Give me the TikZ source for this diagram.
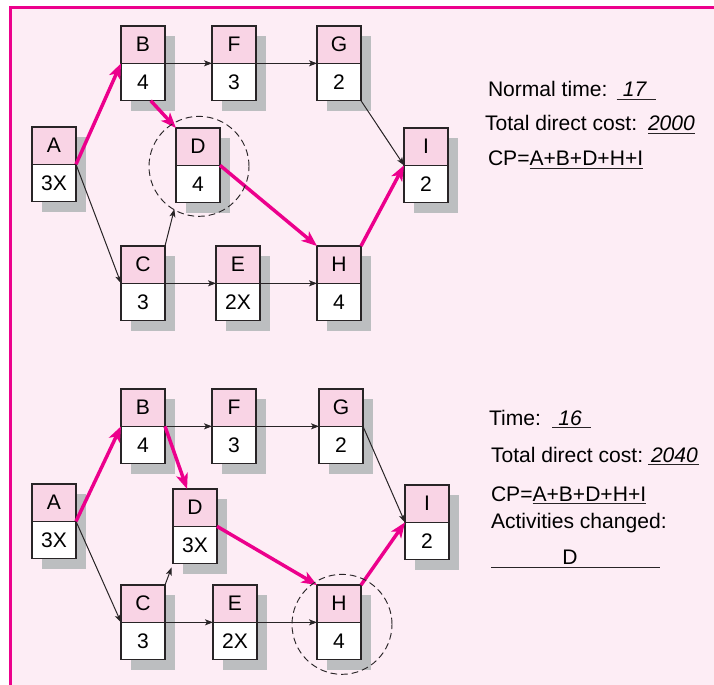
\documentclass[tikz,border=0pt]{standalone}
\usepackage{fontspec}
\setmainfont{Liberation Sans}
\usetikzlibrary{arrows.meta,calc}
\definecolor{bgpink}{RGB}{253,237,245}
\definecolor{hdpink}{RGB}{249,212,229}
\definecolor{mag}{RGB}{236,0,140}
\definecolor{shad}{RGB}{188,190,192}
\definecolor{edge}{RGB}{40,36,38}
\tikzset{
  hd/.style={draw=edge, line width=0.9pt, fill=hdpink, minimum width=33pt, minimum height=28pt, inner sep=0pt, outer sep=0pt},
  vl/.style={draw=edge, line width=0.9pt, fill=white, minimum width=33pt, minimum height=28pt, inner sep=0pt, outer sep=0pt},
  lnk/.style={draw=edge, line width=0.75pt, -{Stealth[length=6pt,width=4.5pt,inset=1.5pt]}},
  crit/.style={draw=mag, line width=2.6pt, -{Stealth[length=11.5pt,width=9pt,inset=3pt]}},
  dcirc/.style={draw=edge, line width=0.7pt, dash pattern=on 5pt off 3pt},
  txt/.style={anchor=base west, inner sep=0pt, outer sep=0pt},
  ul/.style={draw=edge, line width=0.7pt}
}
\newcommand\actbox[5]{%
  \fill[shad] (#2+10,#3+10) rectangle ++(44,75);
  \node[hd, anchor=north west] (#1) at (#2,#3) {#4};
  \node[vl, anchor=north] (#1v) at (#1.south) {#5};
}
\begin{document}
\begin{tikzpicture}[x=0.75pt,y=-0.75pt,font=\fontsize{15.8}{19}\selectfont]
\useasboundingbox (0,0) rectangle (714,685);
\fill[white] (0,0) rectangle (714,685);
\fill[bgpink] (10.5,7.5) rectangle (714,685);
\draw[mag, line width=2.3pt] (10.5,686) -- (10.5,7.5) -- (715,7.5);

% ---------- top network ----------
\actbox{A1}{32}{127}{A}{3X}
\actbox{B1}{121}{26}{B}{4}
\actbox{C1}{121}{246}{C}{3}
\actbox{D1}{176}{128}{D}{4}
\actbox{E1}{216}{246}{E}{2X}
\actbox{F1}{212}{26}{F}{3}
\actbox{G1}{317}{26}{G}{2}
\actbox{H1}{317}{246}{H}{4}
\actbox{I1}{404}{128}{I}{2}

\draw[lnk] (B1.south east) -- (F1.south west);
\draw[lnk] (F1.south east) -- (G1.south west);
\draw[lnk] (G1v.south east) -- (I1.south west);
\draw[lnk] (A1.south east) -- (C1.south west);
\draw[lnk, shorten >=5pt] (C1.north east) -- (D1v.south west);
\draw[lnk] (C1.south east) -- (E1.south west);
\draw[lnk] (E1.south east) -- (H1.south west);
\draw[crit] (A1.south east) -- (B1.south west);
\draw[crit] ($(B1v.south)!0.35!(B1v.south east)$) -- (D1.north west);
\draw[crit] (D1.south east) -- (H1.north west);
\draw[crit] (H1.north east) -- (I1.south west);
\draw[dcirc] ($(D1.south)+(1,1)$) circle[radius=37.5pt];

\node[txt] (nt) at (488,97) {Normal time:};
\node[anchor=base, inner sep=0pt] (t17) at (635,97) {\textit{17}};
\draw[ul] ($(t17.base west)+(-6,2.5)$) -- ($(t17.base east)+(9,2.5)$);
\node[txt] (tc1) at (485,131) {Total direct cost:};
\node[txt] (c2000) at (648,131) {\textit{2000}};
\draw[ul] ($(c2000.base west)+(0,2.5)$) -- ($(c2000.base east)+(0,2.5)$);
\node[txt] (cp1) at (488,166) {CP=};
\node[txt] (cp1x) at (cp1.base east) {A+B+D+H+I};
\draw[ul] ($(cp1x.base west)+(0,2.5)$) -- ($(cp1x.base east)+(0,2.5)$);

% ---------- bottom network ----------
\actbox{A2}{32}{484}{A}{3X}
\actbox{B2}{121}{389}{B}{4}
\actbox{C2}{121}{585}{C}{3}
\actbox{D2}{173}{489}{D}{3X}
\actbox{E2}{213}{585}{E}{2X}
\actbox{F2}{212}{389}{F}{3}
\actbox{G2}{319}{389}{G}{2}
\actbox{H2}{317}{585}{H}{4}
\actbox{I2}{405}{485}{I}{2}

\draw[lnk] (B2.south east) -- (F2.south west);
\draw[lnk] (F2.south east) -- (G2.south west);
\draw[lnk] (G2.south east) -- (I2.south west);
\draw[lnk] (A2.south east) -- (C2.south west);
\draw[lnk, shorten >=3pt] (C2.north east) -- (D2v.south west);
\draw[lnk] (C2.south east) -- (E2.south west);
\draw[lnk] (E2.south east) -- (H2.south west);
\draw[crit] (A2.south east) -- (B2.south west);
\draw[crit] (B2.south east) -- ($(D2.north west)!0.32!(D2.north east)$);
\draw[crit] (D2.south east) -- (H2.north west);
\draw[crit] (H2.north east) -- (I2.south west);
\draw[dcirc] ($(H2.south)+(3,2)$) circle[radius=37.5pt];

\node[txt] (tm) at (489,425) {Time:};
\node[anchor=base, inner sep=0pt] (t16) at (570,425) {\textit{16}};
\draw[ul] ($(t16.base west)+(-6,2.5)$) -- ($(t16.base east)+(9,2.5)$);
\node[txt] (tc2) at (491,462) {Total direct cost:};
\node[txt] (c2040) at (651,462) {\textit{2040}};
\draw[ul] ($(c2040.base west)+(-3,2.5)$) -- ($(c2040.base east)+(1,2.5)$);
\node[txt] (cp2) at (491,501) {CP=};
\node[txt] (cp2x) at (cp2.base east) {A+B+D+H+I};
\draw[ul] ($(cp2x.base west)+(0,2.5)$) -- ($(cp2x.base east)+(0,2.5)$);
\node[txt] (ac) at (491,528) {Activities changed:};
\node[anchor=base, inner sep=0pt] (chg) at (570,564) {D};
\coordinate (ulA) at (491,567);
\coordinate (ulB) at (660,567);
\draw[ul] (ulA) -- (ulB);
\end{tikzpicture}
\end{document}
